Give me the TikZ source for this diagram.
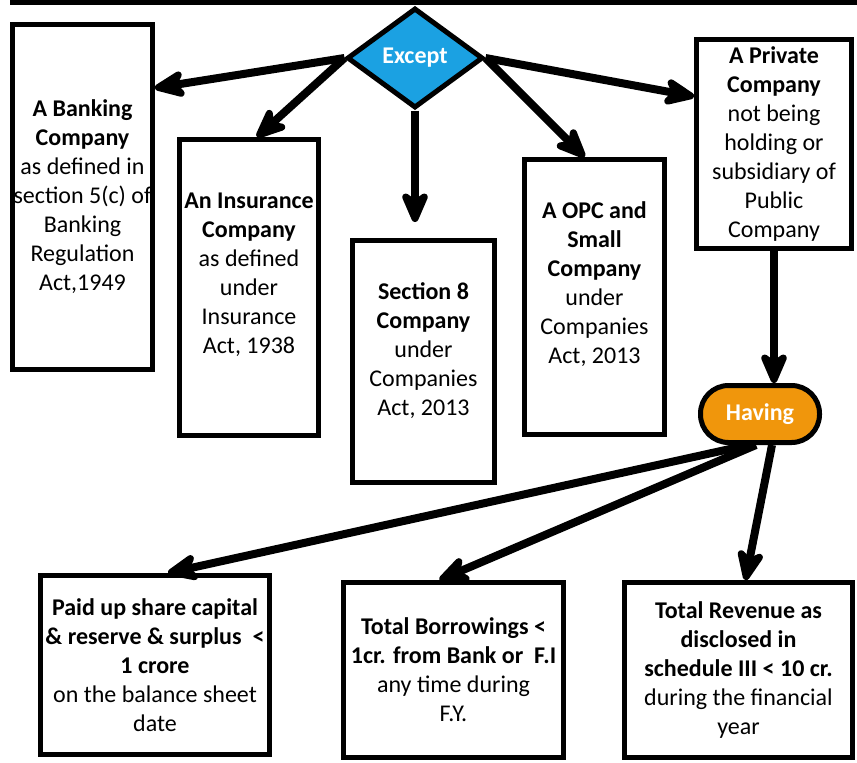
\documentclass[tikz,border=0pt]{standalone}
\usepackage{fontspec}
\setmainfont{Carlito}
\usetikzlibrary{shapes.geometric,arrows.meta}
\definecolor{exceptblue}{RGB}{27,161,226}
\definecolor{havingorange}{RGB}{240,150,12}
\tikzset{box/.style={draw,line width=2.5pt,align=center,inner xsep=0pt,
    font=\fontsize{12}{14.5}\selectfont},
  arr/.style={line width=4pt,-{Stealth[length=20pt,width=17pt,inset=6pt,round]}}}

\begin{document}
\begin{tikzpicture}[x=0.5pt,y=-0.5pt]
    \useasboundingbox (0,0) rectangle (857,762);
    \draw[line width=2.5pt] (10,2) -- (857,2);
    % top row
    \node[diamond,draw,line width=2.5pt,fill=exceptblue,minimum width=68pt,minimum height=50pt,
        inner sep=0pt,text=white,font=\fontsize{12}{14.5}\selectfont\bfseries] (except) at (415,58) {Except};
    \node[box,minimum width=70pt,minimum height=172.5pt] (bank) at (82.5,197)
        {\textbf{A Banking}\\\textbf{Company}\\as defined in\\section 5(c) of\\Banking\\Regulation\\Act,1949};
    \node[box,minimum width=69.5pt,minimum height=148pt] (ins) at (249,287.5)
        {\textbf{An Insurance}\\\textbf{Company}\\as defined\\under\\Insurance\\Act, 1938\\\mbox{}};
    \node[box,minimum width=71pt,minimum height=121pt] (sec8) at (423.5,361.5)
        {\textbf{Section 8}\\\textbf{Company}\\under\\Companies\\Act, 2013\\[-2pt]\mbox{}};
    \node[box,minimum width=70pt,minimum height=137.5pt] (opc) at (594.5,297)
        {\textbf{A OPC and}\\\textbf{Small}\\\textbf{Company}\\under\\Companies\\Act, 2013\\\mbox{}};
    \node[box,minimum width=77.5pt,minimum height=103.5pt] (priv) at (774,144)
        {\textbf{A Private}\\\textbf{Company}\\not being\\holding or\\subsidiary of\\Public\\Company};
    % having
    \node[draw,line width=2.5pt,fill=havingorange,rounded corners=14pt,minimum width=59.5pt,
        minimum height=28.5pt,text=white,font=\fontsize{12}{14.5}\selectfont\bfseries] (having) at (760,414) {Having};
    % bottom row
    \node[box,minimum width=114.5pt,minimum height=89.5pt] (paid) at (155,665)
        {\textbf{Paid up share capital}\\\textbf{\& reserve \& surplus\ \ <}\\\textbf{1 crore}\\on the balance sheet\\date};
    \node[box,minimum width=110pt,minimum height=87.5pt] (borr) at (453.5,670)
        {\textbf{Total Borrowings <}\\\textbf{1cr. from Bank or\ \ F.I}\\any time during\\F.Y.};
    \node[box,minimum width=114pt,minimum height=87.5pt] (rev) at (738.5,670)
        {\textbf{Total Revenue as}\\\textbf{disclosed in}\\\textbf{schedule III < 10 cr.}\\during the financial\\year};
    % arrows
    \draw[arr] (except.west) -- ([yshift=-33pt]bank.north east);
    \draw[arr] (except.west) -- ([xshift=4pt]ins.north);
    \draw[arr,shorten >=8pt] (except.south) -- (except.south |- sec8.north);
    \draw[arr] (except.east) -- ([xshift=-5pt]opc.north);
    \draw[arr] (except.east) -- ([yshift=-29.5pt]priv.north west);
    \draw[arr] (priv.south) -- (priv.south |- having.north);
    \draw[arr] ([xshift=-6pt]having.south) -- ([xshift=6.5pt]paid.north);
    \draw[arr] ([xshift=-2pt]having.south) -- ([xshift=-7pt]borr.north);
    \draw[arr] ([xshift=6pt]having.south) -- ([xshift=3.5pt]rev.north);
\end{tikzpicture}
\end{document}
